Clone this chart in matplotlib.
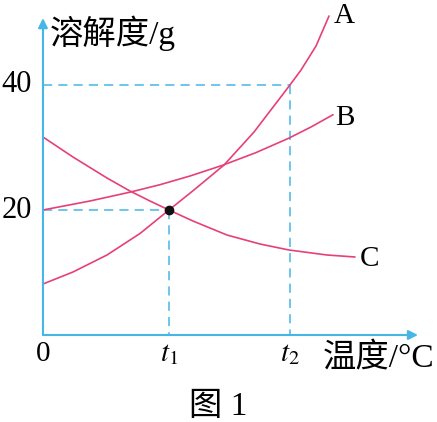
import numpy as np
import matplotlib
matplotlib.use("Agg")
import matplotlib.pyplot as plt

# temperature axis in units of t1 (t1 = 1)
t1 = 1.0
t2 = 1.96

# solubility curves
a_x = [0.0, 0.238, 0.508, 0.770, 1.0, 1.198, 1.437, 1.675, 1.96, 2.048, 2.167, 2.27]
a_y = [8.16, 10.08, 12.8, 16.24, 20.0, 23.2, 27.2, 32.48, 40.0, 42.4, 46.24, 51.04]

b_x = [0.0, 0.373, 0.690, 0.929, 1.167, 1.429, 1.690, 1.952, 2.127, 2.302]
b_y = [20.0, 21.44, 22.85, 24.05, 25.44, 27.18, 29.18, 31.5, 33.28, 35.25]

c_x = [0.0, 0.238, 0.508, 0.69, 0.849, 1.0, 1.190, 1.460, 1.722, 1.952, 2.254, 2.476]
c_y = [31.68, 28.48, 25.12, 23.04, 21.44, 20.0, 18.24, 16.0, 14.56, 13.6, 12.8, 12.48]

curve_names = ["A", "B", "C"]
y_ticks = [20, 40]
x_labels = ["0", "$t_1$", "$t_2$"]

pink = "#e6407a"
blue = "#45b6e6"
serif = ["Liberation Serif", "Noto Sans CJK SC"]

fig = plt.figure(figsize=(4.37, 4.22), dpi=100)
ax = fig.add_axes([0, 0, 1, 1])
ax.set_xlim(-0.341, 3.127)
ax.set_ylim(-13.92, 53.6)
ax.axis("off")

# axes with arrows
ax.annotate("", xy=(2.976, 0), xytext=(0, 0),
            arrowprops=dict(arrowstyle="-|>", color=blue, lw=1.5,
                            mutation_scale=14, shrinkA=0, shrinkB=0))
ax.annotate("", xy=(0, 50.7), xytext=(0, 0),
            arrowprops=dict(arrowstyle="-|>", color=blue, lw=1.5,
                            mutation_scale=14, shrinkA=0, shrinkB=0))

# dashed guide lines
dash = dict(color=blue, lw=1.1, ls=(0, (6, 4)))
ax.plot([0, t2], [40, 40], **dash)
ax.plot([t2, t2], [40, 0], **dash)
ax.plot([0, t1], [20, 20], **dash)
ax.plot([t1, t1], [20, 0], **dash)

for xs, ys in [(a_x, a_y), (b_x, b_y), (c_x, c_y)]:
    ax.plot(xs, ys, color=pink, lw=1.2, solid_capstyle="round",
            solid_joinstyle="round")

ax.plot([t1], [20], "o", color="#111111", ms=6)

# curve labels
ax.text(a_x[-1] + 0.04, a_y[-1], curve_names[0], fontsize=21, family=serif,
        va="center", ha="left")
ax.text(b_x[-1] + 0.02, b_y[-1] - 0.5, curve_names[1], fontsize=21, family=serif,
        va="center", ha="left")
ax.text(c_x[-1] + 0.04, c_y[-1] - 0.3, curve_names[2], fontsize=21, family=serif,
        va="center", ha="left")

for v in y_ticks:
    ax.text(-0.21, v, str(v), fontsize=22, family=serif, va="center", ha="center")

for xv, lab in zip([0, t1, t2], x_labels):
    ax.text(xv, -3.0, lab, fontsize=21, family=serif, va="center", ha="center",
            math_fontfamily="stix")

ax.text(0.05, 48.3, "溶解度/g", fontsize=24, family=serif, va="center", ha="left")
ax.text(2.22, -3.7, "温度/°C", fontsize=24, family=serif, va="center", ha="left")
ax.text(1.389, -11.5, "图 1", fontsize=24, family=serif, va="center", ha="center")

fig.savefig("out.png", dpi=100)
